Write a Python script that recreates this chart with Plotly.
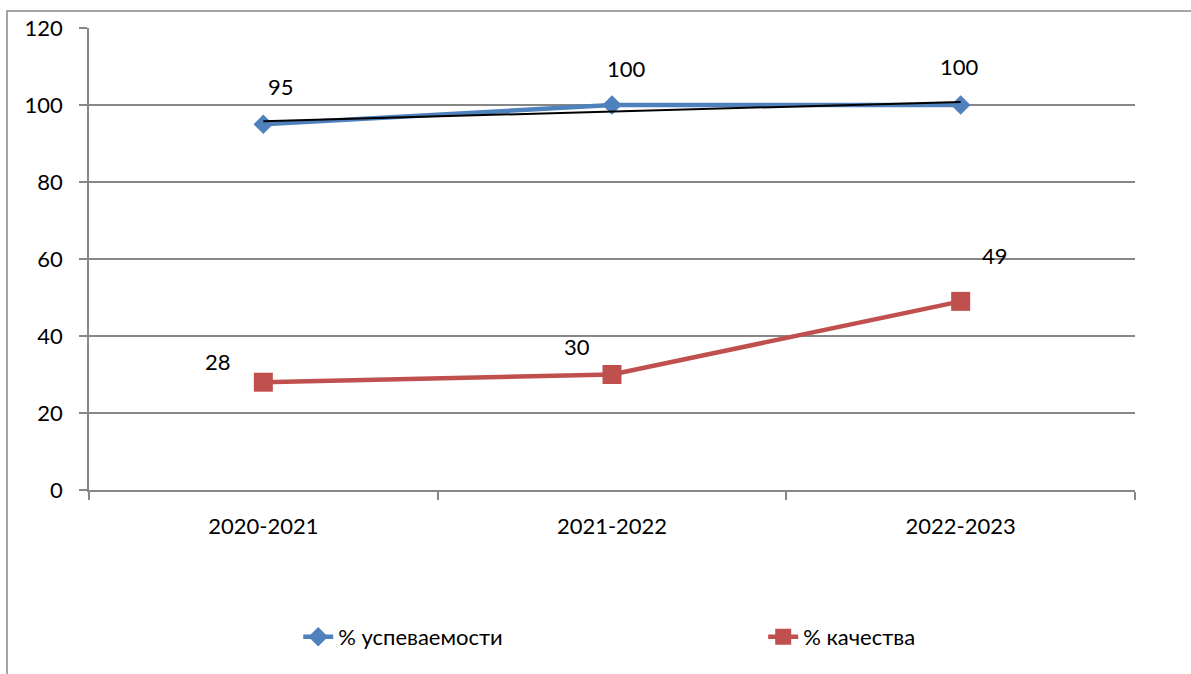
import plotly.graph_objects as go

categories = ["2020-2021", "2021-2022", "2022-2023"]
uspevaemost = [95, 100, 100]
kachestvo = [28, 30, 49]
trend_x = ["2020-2021", "2022-2023"]
trend_y = [95.8, 100.8]

label_offsets_blue = [(18, -38), (14, -37), (-1, -39)]
label_offsets_red = [(-45, -21), (-35, -28), (34, -46)]

FONT = "Lato, 'Noto Sans', sans-serif"
BLUE = "#4F81BD"
RED = "#C0504D"
GRID = "#878787"

fig = go.Figure()
fig.add_trace(go.Scatter(
    x=categories, y=uspevaemost, mode="lines+markers", name="% успеваемости",
    line=dict(color=BLUE, width=4.5),
    marker=dict(symbol="diamond", size=15, color=BLUE),
))
fig.add_trace(go.Scatter(
    x=trend_x, y=trend_y, mode="lines", showlegend=False,
    line=dict(color="black", width=2),
))
fig.add_trace(go.Scatter(
    x=categories, y=kachestvo, mode="lines+markers", name="% качества",
    line=dict(color=RED, width=4.5),
    marker=dict(symbol="square", size=19, color=RED),
))

for c, v, (dx, dy) in zip(categories, uspevaemost, label_offsets_blue):
    fig.add_annotation(x=c, y=v, text=str(v), showarrow=True, arrowcolor="rgba(0,0,0,0)",
                       ax=dx, ay=dy, font=dict(family=FONT, size=22, color="black"))
for c, v, (dx, dy) in zip(categories, kachestvo, label_offsets_red):
    fig.add_annotation(x=c, y=v, text=str(v), showarrow=True, arrowcolor="rgba(0,0,0,0)",
                       ax=dx, ay=dy, font=dict(family=FONT, size=22, color="black"))

# outer chart border (left and top visible)
fig.add_shape(type="rect", xref="paper", yref="paper",
              x0=-0.0784, x1=1.1, y0=-0.6, y1=1.0368,
              line=dict(color=GRID, width=1.5), layer="below")

fig.update_layout(
    width=1191, height=674,
    margin=dict(l=89, r=56, t=28, b=184, autoexpand=False),
    plot_bgcolor="white", paper_bgcolor="white",
    font=dict(family=FONT, size=22, color="black"),
    showlegend=True,
    legend=dict(orientation="h", x=0.2, xanchor="left", y=-0.318, yanchor="middle",
                entrywidth=420, entrywidthmode="pixels",
                font=dict(family=FONT, size=22, color="black")),
)
fig.update_xaxes(
    type="category", range=[-0.5, 2.5], showgrid=False,
    showline=True, linecolor=GRID, linewidth=1.5,
    ticks="outside", tickson="boundaries", ticklen=8, tickcolor=GRID, tickwidth=1.5,
    ticklabelstandoff=16,
    tickfont=dict(family=FONT, size=22, color="black"),
)
fig.update_yaxes(
    range=[0, 120], dtick=20, showgrid=True, gridcolor=GRID, gridwidth=1.5,
    showline=True, linecolor=GRID, linewidth=1.5, zeroline=False,
    ticks="outside", ticklen=8, tickcolor=GRID, tickwidth=1.5,
    ticklabelstandoff=12,
    tickfont=dict(family=FONT, size=22, color="black"),
)

fig.write_html("out.html", config={"displayModeBar": False},
               post_script="document.body.style.margin='0px';document.body.style.overflow='hidden';")
